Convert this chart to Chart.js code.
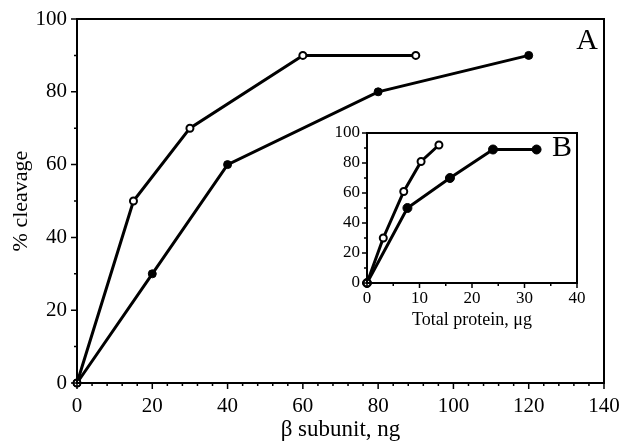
<!DOCTYPE html>
<html>
<head>
<meta charset="utf-8">
<script src="https://cdn.jsdelivr.net/npm/chart.js@4"></script>
<style>
  body { margin: 0; background: #fff; }
  #wrap { position: relative; width: 623px; height: 441px; }
  #mainChart { position: absolute; left: 0; top: 0; }
  #insetChart { position: absolute; left: 320px; top: 110px; }
</style>
</head>
<body>
<div id="wrap">
  <canvas id="mainChart" width="623" height="441"></canvas>
  <canvas id="insetChart" width="280" height="230"></canvas>
</div>
<script>
// panel A: beta subunit, ng vs % cleavage
const openX = [0, 15, 30, 60, 90];
const openY = [0, 50, 70, 90, 90];
const filledX = [0, 20, 40, 80, 120];
const filledY = [0, 30, 60, 80, 90];

// panel B: total protein, ug vs % cleavage
const insetOpenX = [0, 3.1, 7.0, 10.3, 13.7];
const insetOpenY = [0, 30, 61, 81, 92];
const insetFilledX = [0, 7.7, 15.8, 24, 32.3];
const insetFilledY = [0, 50, 70, 89, 89];

const mainXTicks = [0, 20, 40, 60, 80, 100, 120, 140];
const mainYTicks = [0, 20, 40, 60, 80, 100];
const insetXTicks = [0, 10, 20, 30, 40];
const insetYTicks = [0, 20, 40, 60, 80, 100];

Chart.defaults.font.family = "'Liberation Serif', 'DejaVu Serif', serif";
Chart.defaults.color = '#000';

function pts(xs, ys) {
  return xs.map((x, i) => ({x: x, y: ys[i]}));
}

// draws the frame, outward major/minor ticks and the panel letter
const framePlugin = {
  id: 'frame',
  afterDraw(chart, args, opts) {
    const ctx = chart.ctx;
    const a = chart.chartArea;
    ctx.save();
    ctx.strokeStyle = '#000';
    ctx.lineWidth = opts.lineWidth;
    ctx.strokeRect(a.left, a.top, a.right - a.left, a.bottom - a.top);

    const xs = chart.scales.x, ys = chart.scales.y;
    ctx.lineWidth = 1.5;
    ctx.beginPath();
    xs.ticks.forEach(t => {
      const px = xs.getPixelForValue(t.value);
      const len = opts.xMajor.includes(t.value) ? opts.majorLen : opts.minorLen;
      ctx.moveTo(px, a.bottom);
      ctx.lineTo(px, a.bottom + len);
    });
    ys.ticks.forEach(t => {
      const py = ys.getPixelForValue(t.value);
      const len = opts.yMajor.includes(t.value) ? opts.majorLen : opts.minorLen;
      ctx.moveTo(a.left, py);
      ctx.lineTo(a.left - len, py);
    });
    ctx.stroke();

    ctx.fillStyle = '#000';
    ctx.font = opts.letterSize + "px 'Liberation Serif', serif";
    ctx.textAlign = 'center';
    ctx.textBaseline = 'middle';
    ctx.fillText(opts.letter, opts.letterX, opts.letterY);
    ctx.restore();
  }
};

function openSet(data, r) {
  return {
    data: data, showLine: true, borderColor: '#000', borderWidth: 3,
    pointRadius: r, pointBackgroundColor: '#fff', pointBorderColor: '#000',
    pointBorderWidth: 2, clip: false
  };
}
function filledSet(data, r) {
  return {
    data: data, showLine: true, borderColor: '#000', borderWidth: 3,
    pointRadius: r, pointBackgroundColor: '#000', pointBorderColor: '#000',
    pointBorderWidth: 1, clip: false
  };
}

// fixed box sizes, no extra room for overhanging tick labels
function fixX(h) {
  return s => { s.height = h; s.paddingLeft = 0; s.paddingRight = 0; };
}
function fixY(w) {
  return s => { s.width = w; s.paddingTop = 0; s.paddingBottom = 0; };
}

new Chart(document.getElementById('mainChart'), {
  type: 'scatter',
  data: {
    datasets: [
      openSet(pts(openX, openY), 3.5),
      filledSet(pts(filledX, filledY), 4)
    ]
  },
  options: {
    responsive: false,
    animation: false,
    layout: {padding: {left: 0, top: 19, right: 19, bottom: 0}},
    plugins: {
      legend: {display: false},
      tooltip: {enabled: false},
      frame: {
        lineWidth: 2, majorLen: 6, minorLen: 3,
        xMajor: mainXTicks, yMajor: mainYTicks,
        letter: 'A', letterX: 587, letterY: 41, letterSize: 30
      }
    },
    scales: {
      x: {
        type: 'linear', min: 0, max: 140,
        grid: {display: false, drawTicks: false},
        border: {display: false},
        ticks: {
          stepSize: 4, autoSkip: false, maxRotation: 0, padding: 11,
          font: {size: 21},
          callback: v => mainXTicks.includes(v) ? String(v) : ''
        },
        title: {
          display: true, text: 'β subunit, ng', font: {size: 23, lineHeight: 1.0},
          padding: {top: 0, bottom: 0}
        },
        afterFit: fixX(58)
      },
      y: {
        type: 'linear', min: 0, max: 100,
        grid: {display: false, drawTicks: false},
        border: {display: false},
        ticks: {
          stepSize: 10, autoSkip: false, padding: 10,
          font: {size: 21},
          callback: v => mainYTicks.includes(v) ? String(v) : ''
        },
        title: {
          display: true, text: '% cleavage', font: {size: 22},
          padding: {top: 8, bottom: 0}
        },
        afterFit: fixY(77)
      }
    }
  },
  plugins: [framePlugin]
});

new Chart(document.getElementById('insetChart'), {
  type: 'scatter',
  data: {
    datasets: [
      openSet(pts(insetOpenX, insetOpenY), 3.5),
      filledSet(pts(insetFilledX, insetFilledY), 4.5)
    ]
  },
  options: {
    responsive: false,
    animation: false,
    layout: {padding: {left: 0, top: 23, right: 23, bottom: 0}},
    plugins: {
      legend: {display: false},
      tooltip: {enabled: false},
      frame: {
        lineWidth: 2, majorLen: 5, minorLen: 3,
        xMajor: insetXTicks, yMajor: insetYTicks,
        letter: 'B', letterX: 242, letterY: 38, letterSize: 30
      }
    },
    scales: {
      x: {
        type: 'linear', min: 0, max: 40,
        grid: {display: false, drawTicks: false},
        border: {display: false},
        ticks: {
          stepSize: 5, autoSkip: false, maxRotation: 0, padding: 5,
          font: {size: 17},
          callback: v => insetXTicks.includes(v) ? String(v) : ''
        },
        title: {
          display: true, text: 'Total protein, μg', font: {size: 18},
          padding: {top: 0, bottom: 9}
        },
        afterFit: fixX(57)
      },
      y: {
        type: 'linear', min: 0, max: 100,
        grid: {display: false, drawTicks: false},
        border: {display: false},
        ticks: {
          stepSize: 10, autoSkip: false, padding: 7,
          font: {size: 17},
          callback: v => insetYTicks.includes(v) ? String(v) : ''
        },
        afterFit: fixY(47)
      }
    }
  },
  plugins: [framePlugin]
});
</script>
</body>
</html>
